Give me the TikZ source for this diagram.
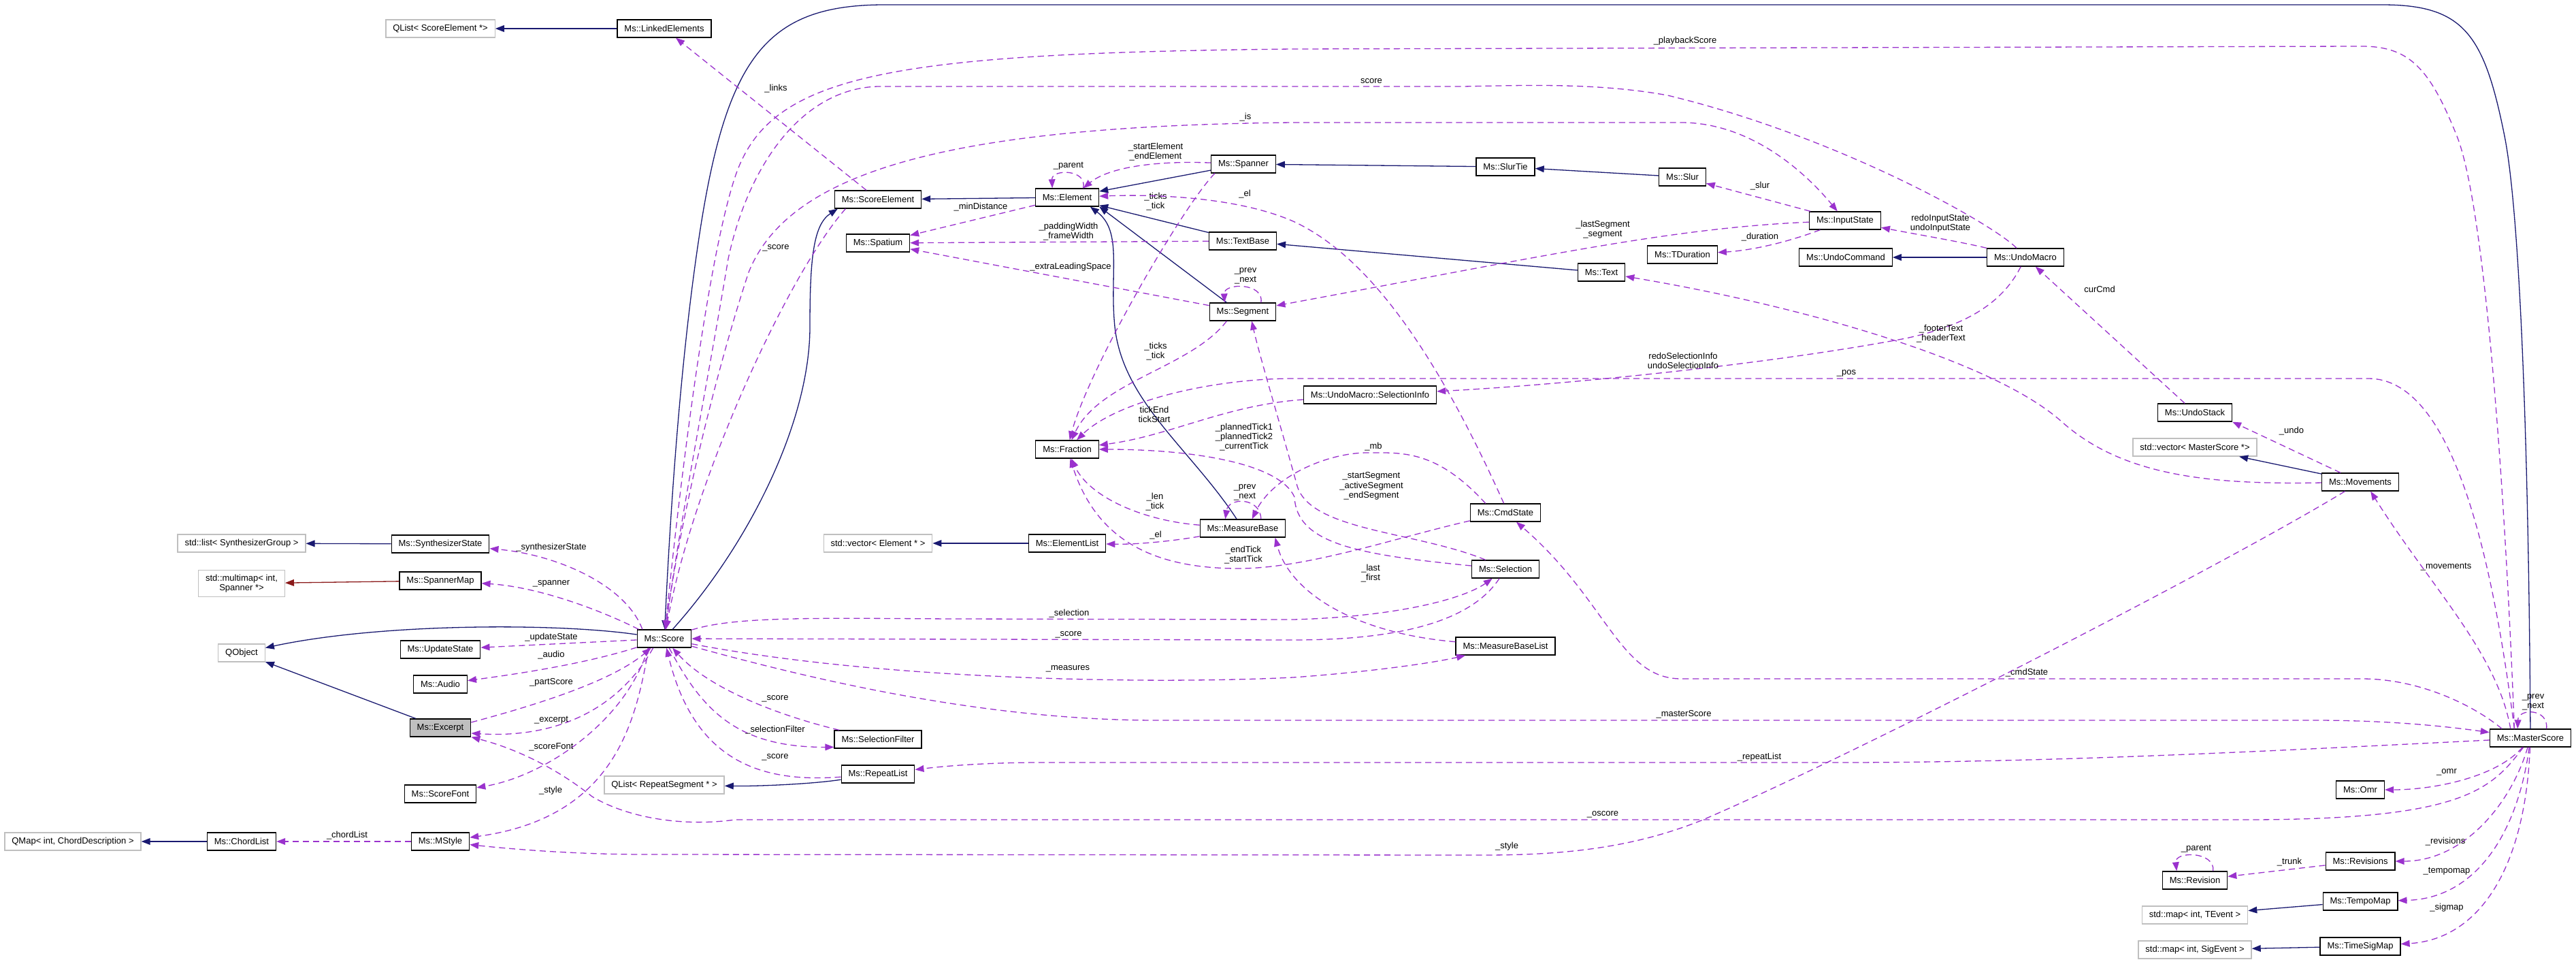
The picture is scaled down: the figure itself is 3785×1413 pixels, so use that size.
\documentclass[tikz,border=0pt]{standalone}
\usepackage{fontspec}
\setmainfont{Liberation Sans}
\usetikzlibrary{arrows.meta}
\definecolor{Navy}{HTML}{191970}
\definecolor{Orchid}{HTML}{9A32CD}
\definecolor{Brick}{HTML}{8B1A1A}
\definecolor{Grey}{HTML}{BFBFBF}
\begin{document}
\begin{tikzpicture}[x=0.769pt,y=-0.769pt,font=\fontsize{10}{11}\selectfont,
cls/.style={draw=black,line width=1pt,fill=white,inner xsep=8pt,inner ysep=0pt,minimum height=20pt,align=center},
ext/.style={cls,draw=Grey},cur/.style={cls,fill=Grey},
inh/.style={-{Triangle[length=10pt,width=7.5pt]},draw=Navy,line width=1pt},
tpl/.style={inh,draw=Brick},
dep/.style={-{Triangle[length=10pt,width=7.5pt]},draw=Orchid,line width=1pt,dash pattern=on 7pt off 4.5pt},
lbl/.style={align=center,inner sep=0pt}]
\useasboundingbox (0,0) rectangle (3785,1413);
\node[ext] (qlistse) at (647,42) {QList< ScoreElement *>};
\node[cls] (linked) at (976,42) {Ms::LinkedElements};
\node[cls] (scoreel) at (1290,293) {Ms::ScoreElement};
\node[cls] (elem) at (1568,290) {Ms::Element};
\node[cls] (spatium) at (1290,357) {Ms::Spatium};
\node[cls] (spanner) at (1827,241) {Ms::Spanner};
\node[cls] (textbase) at (1826,354) {Ms::TextBase};
\node[cls] (segment) at (1826,458) {Ms::Segment};
\node[cls] (slurtie) at (2212,245) {Ms::SlurTie};
\node[cls] (slur) at (2472,260) {Ms::Slur};
\node[cls] (inputst) at (2711,324) {Ms::InputState};
\node[cls] (tdur) at (2472,374) {Ms::TDuration};
\node[cls] (undocmd) at (2712,378) {Ms::UndoCommand};
\node[cls] (txt) at (2353,400) {Ms::Text};
\node[cls] (undomac) at (2976,378) {Ms::UndoMacro};
\node[cls] (fraction) at (1568,660) {Ms::Fraction};
\node[cls] (measbase) at (1826,776) {Ms::MeasureBase};
\node[cls] (ellist) at (1568,798) {Ms::ElementList};
\node[ext] (vecel) at (1290,798) {std::vector< Element * >};
\node[cls] (selinfo) at (2013,580) {Ms::UndoMacro::SelectionInfo};
\node[cls] (cmdst) at (2212,753) {Ms::CmdState};
\node[cls] (selection) at (2212,836) {Ms::Selection};
\node[cls] (mblist) at (2212,949) {Ms::MeasureBaseList};
\node[cls] (undostack) at (3225,606) {Ms::UndoStack};
\node[ext] (vecms) at (3225,657) {std::vector< MasterScore *>};
\node[cls] (movements) at (3468,708) {Ms::Movements};
\node[ext] (listsyn) at (355,798) {std::list< SynthesizerGroup >};
\node[cls] (synstate) at (647,799) {Ms::SynthesizerState};
\node[ext,inner ysep=5pt] (multimap) at (355,857) {std::multimap< int,\\Spanner *>};
\node[cls] (spmap) at (647,853) {Ms::SpannerMap};
\node[cls] (score) at (976,938) {Ms::Score};
\node[ext] (qobject) at (355,959) {QObject};
\node[cls] (updst) at (647,954) {Ms::UpdateState};
\node[cls] (audio) at (647,1005) {Ms::Audio};
\node[cur] (excerpt) at (647,1069) {Ms::Excerpt};
\node[cls] (scorefont) at (647,1166) {Ms::ScoreFont};
\node[ext] (qmap) at (107,1236) {QMap< int, ChordDescription >};
\node[cls] (chordlist) at (355,1236) {Ms::ChordList};
\node[cls] (mstyle) at (647,1236) {Ms::MStyle};
\node[ext] (qlistrs) at (976,1153) {QList< RepeatSegment * >};
\node[cls] (selfilter) at (1290,1086) {Ms::SelectionFilter};
\node[cls] (replist) at (1290,1137) {Ms::RepeatList};
\node[cls] (master) at (3718,1084) {Ms::MasterScore};
\node[cls] (omr) at (3468,1160) {Ms::Omr};
\node[cls] (revisions) at (3468,1265) {Ms::Revisions};
\node[cls] (revision) at (3225,1293) {Ms::Revision};
\node[cls] (tempomap) at (3468,1324) {Ms::TempoMap};
\node[ext] (mapte) at (3225,1344) {std::map< int, TEvent >};
\node[cls] (timesig) at (3468,1390) {Ms::TimeSigMap};
\node[ext] (mapse) at (3225,1395) {std::map< int, SigEvent >};
\draw[inh] (linked) -- (qlistse);
\draw[inh] (elem) -- (scoreel);
\draw[inh] (spanner) -- (elem);
\draw[inh] (textbase) -- (elem);
\draw[inh] (segment.150) -- (elem.-16);
\draw[inh] (measbase) .. controls (1750,660) and (1650,590) .. (1638,480) .. controls (1630,400) and (1650,340) .. (elem.-22);
\draw[inh] (slurtie) -- (spanner);
\draw[inh] (slur) -- (slurtie);
\draw[inh] (txt) -- (textbase);
\draw[inh] (undomac) -- (undocmd);
\draw[inh] (synstate) -- (listsyn);
\draw[inh] (ellist) -- (vecel);
\draw[inh] (chordlist) -- (qmap);
\draw[inh] (replist) .. controls (1190,1152) and (1110,1155) .. (qlistrs);
\draw[inh] (movements) -- (vecms);
\draw[inh] (tempomap) -- (mapte);
\draw[inh] (timesig) -- (mapse);
\draw[inh] (excerpt) -- (qobject);
\draw[inh] (score) .. controls (820,915) and (560,915) .. (qobject);
\draw[inh] (score) .. controls (1100,800) and (1190,620) .. (1190,480) .. controls (1190,380) and (1195,330) .. (scoreel.-167);
\draw[inh] (master) .. controls (3715,600) and (3700,300) .. (3680,200) .. controls (3650,50) and (3620,7) .. (3500,7) -- (1300,7) .. controls (1130,7) and (1070,80) .. (1030,330) .. controls (1000,520) and (985,750) .. (score);
\draw[tpl] (spmap) -- (multimap);
\draw[dep] (scoreel) -- (linked) node[lbl] at (1140,130) {\_links};
\draw[dep] (scoreel.-164) .. controls (1160,400) and (1020,700) .. (score) node[lbl] at (1140,364) {\_score};
\draw[dep] (elem.30) .. controls (1598,248) and (1545,248) .. (elem.148) node[lbl] at (1570,244) {\_parent};
\draw[dep] (spanner) .. controls (1700,236) and (1630,245) .. (elem.30) node[lbl] at (1698,223) {\_startElement\\\_endElement};
\draw[dep] (elem) -- (spatium) node[lbl] at (1441,304) {\_minDistance};
\draw[dep] (textbase) -- (spatium) node[lbl] at (1570,340) {\_paddingWidth\\\_frameWidth};
\draw[dep] (segment) -- (spatium) node[lbl] at (1573,392) {\_extraLeadingSpace};
\draw[dep] (segment.27) .. controls (1858,415) and (1798,415) .. (segment.153) node[lbl] at (1830,405) {\_prev\\\_next};
\draw[dep] (spanner.-162) .. controls (1740,300) and (1600,540) .. (fraction) node[lbl] at (1698,296) {\_ticks\\\_tick};
\draw[dep] (segment.-150) .. controls (1750,540) and (1615,560) .. (fraction) node[lbl] at (1698,516) {\_ticks\\\_tick};
\draw[dep] (cmdst.100) .. controls (2120,540) and (2020,380) .. (1900,325) .. controls (1820,290) and (1700,285) .. (elem) node[lbl] at (1829,285) {\_el};
\draw[dep] (cmdst.155) .. controls (2110,660) and (2060,665) .. (2009,665) .. controls (1950,665) and (1870,700) .. (measbase.45) node[lbl] at (2018,656) {\_mb};
\draw[dep] (measbase.27) .. controls (1852,730) and (1805,730) .. (measbase.152) node[lbl] at (1829,723) {\_prev\\\_next};
\draw[dep] (measbase) .. controls (1680,765) and (1600,730) .. (fraction) node[lbl] at (1697,737) {\_len\\\_tick};
\draw[dep] (measbase) .. controls (1740,792) and (1680,800) .. (ellist) node[lbl] at (1698,786) {\_el};
\draw[dep] (cmdst) .. controls (2050,790) and (1920,835) .. (1820,835) .. controls (1690,835) and (1610,790) .. (fraction) node[lbl] at (1827,815) {\_endTick\\\_startTick};
\draw[dep] (selection) .. controls (2000,815) and (1905,800) .. (1902,730) .. controls (1880,680) and (1750,660) .. (fraction) node[lbl] at (1828,642) {\_plannedTick1\\\_plannedTick2\\\_currentTick};
\draw[dep] (selection.155) .. controls (2080,780) and (1920,780) .. (1905,710) .. controls (1880,620) and (1850,520) .. (segment.-46) node[lbl] at (2015,714) {\_startSegment\\\_activeSegment\\\_endSegment};
\draw[dep] (mblist) .. controls (1990,930) and (1895,870) .. (measbase.-16) node[lbl] at (2014,842) {\_last\\\_first};
\draw[dep] (selinfo) .. controls (1800,595) and (1720,640) .. (fraction) node[lbl] at (1696,609) {tickEnd\\tickStart};
\draw[dep] (master.150) .. controls (3660,800) and (3600,556) .. (3480,556) -- (1900,556) .. controls (1780,556) and (1640,590) .. (fraction) node[lbl] at (2713,548) {\_pos};
\draw[dep] (undomac) .. controls (2940,450) and (2880,480) .. (2800,497) .. controls (2600,535) and (2300,565) .. (selinfo) node[lbl] at (2473,530) {redoSelectionInfo\\undoSelectionInfo};
\draw[dep] (movements) .. controls (3250,712) and (3120,700) .. (3030,620) .. controls (2930,530) and (2650,450) .. (txt) node[lbl] at (2852,490) {\_footerText\\\_headerText};
\draw[dep] (undostack) -- (undomac) node[lbl] at (3085,425) {curCmd};
\draw[dep] (movements) -- (undostack.south east) node[lbl] at (3367,633) {\_undo};
\draw[dep] (master.155) .. controls (3670,960) and (3570,860) .. (movements.-42) node[lbl] at (3594,833) {\_movements};
\draw[dep] (master.162) .. controls (3640,1040) and (3560,997) .. (3470,997) -- (2470,997) .. controls (2380,997) and (2360,880) .. (cmdst) node[lbl] at (2978,988) {\_cmdState};
\draw[dep] (master.30) .. controls (3745,1040) and (3700,1040) .. (master.144) node[lbl] at (3722,1031) {\_prev\\\_next};
\draw[dep] (master) .. controls (3670,1140) and (3580,1160) .. (omr) node[lbl] at (3595,1134) {\_omr};
\draw[dep] (master) .. controls (3690,1180) and (3620,1265) .. (revisions) node[lbl] at (3593,1236) {\_revisions};
\draw[dep] (revisions) -- (revision) node[lbl] at (3364,1266) {\_trunk};
\draw[dep] (revision.27) .. controls (3255,1250) and (3195,1250) .. (revision.153) node[lbl] at (3227,1247) {\_parent};
\draw[dep] (master) .. controls (3700,1220) and (3640,1320) .. (tempomap) node[lbl] at (3595,1280) {\_tempomap};
\draw[dep] (master) .. controls (3710,1280) and (3640,1380) .. (timesig) node[lbl] at (3595,1333) {\_sigmap};
\draw[dep] (master) .. controls (3300,1105) and (3000,1120) .. (2700,1120) -- (1530,1120) .. controls (1450,1120) and (1390,1125) .. (replist) node[lbl] at (2585,1112) {\_repeatList};
\draw[dep] (master) .. controls (3660,1160) and (3620,1204) .. (3300,1204) -- (1080,1204) .. controls (1000,1215) and (920,1200) .. (870,1170) .. controls (820,1130) and (760,1100) .. (excerpt.south east) node[lbl] at (2355,1196) {\_oscore};
\draw[dep] (movements) .. controls (3250,840) and (2700,1120) .. (2500,1205) .. controls (2400,1245) and (2300,1256) .. (2180,1256) -- (950,1255) .. controls (850,1255) and (760,1248) .. (mstyle) node[lbl] at (2214,1243) {\_style};
\draw[dep] (score.-149) .. controls (935,1050) and (910,1200) .. (mstyle) node[lbl] at (809,1161) {\_style};
\draw[dep] (mstyle) -- (chordlist) node[lbl] at (510,1227) {\_chordList};
\draw[dep] (score.-150) .. controls (920,1060) and (800,1140) .. (scorefont) node[lbl] at (810,1097) {\_scoreFont};
\draw[dep] (score.-140) .. controls (910,1040) and (820,1085) .. (excerpt.-10) node[lbl] at (810,1058) {\_excerpt};
\draw[dep] (excerpt.10) .. controls (790,1035) and (900,1000) .. (score.-145) node[lbl] at (810,1002) {\_partScore};
\draw[dep] (score) .. controls (860,975) and (760,990) .. (audio) node[lbl] at (810,962) {\_audio};
\draw[dep] (score) -- (updst) node[lbl] at (810,936) {\_updateState};
\draw[dep] (score.160) .. controls (880,895) and (790,862) .. (spmap) node[lbl] at (810,857) {\_spanner};
\draw[dep] (score.157) .. controls (920,860) and (820,815) .. (synstate) node[lbl] at (810,804) {\_synthesizerState};
\draw[dep] (selfilter) .. controls (1140,1050) and (1040,1010) .. (score) node[lbl] at (1139,1026) {\_score};
\draw[dep] (score) .. controls (1030,1040) and (1080,1098) .. (selfilter.-170) node[lbl] at (1139,1072) {\_selectionFilter};
\draw[dep] (replist) .. controls (1120,1150) and (1020,1120) .. (score) node[lbl] at (1139,1112) {\_score};
\draw[dep] (score) .. controls (1080,905) and (1200,908) .. (1400,909) -- (1900,910) .. controls (2050,906) and (2150,880) .. (selection) node[lbl] at (1571,901) {\_selection};
\draw[dep] (selection) .. controls (2160,915) and (2050,940) .. (1900,940) -- (score) node[lbl] at (1570,932) {\_score};
\draw[dep] (score) .. controls (1300,1000) and (1700,1005) .. (1900,995) .. controls (2000,988) and (2100,975) .. (mblist) node[lbl] at (1569,982) {\_measures};
\draw[dep] (score) .. controls (1200,1000) and (1450,1058) .. (1700,1058) -- (3400,1058) .. controls (3500,1058) and (3580,1065) .. (master) node[lbl] at (2474,1049) {\_masterScore};
\draw[dep] (master.150) .. controls (3680,700) and (3650,300) .. (3610,200) .. controls (3570,100) and (3540,68) .. (3470,68) -- (1900,72) .. controls (1300,78) and (1130,110) .. (1080,260) .. controls (1040,380) and (1000,700) .. (score) node[lbl] at (2476,60) {\_playbackScore};
\draw[dep] (undomac) .. controls (2930,330) and (2700,200) .. (2450,140) .. controls (2350,122) and (2250,125) .. (2150,127) -- (1290,127) .. controls (1180,130) and (1100,240) .. (1070,380) .. controls (1040,560) and (1000,760) .. (score) node[lbl] at (2015,119) {score};
\draw[dep] (score) .. controls (1000,750) and (1060,520) .. (1100,400) .. controls (1160,250) and (1400,185) .. (1900,180) -- (2470,180) .. controls (2570,180) and (2650,250) .. (inputst) node[lbl] at (1830,172) {\_is};
\draw[dep] (inputst) .. controls (2450,335) and (2250,380) .. (segment) node[lbl] at (2355,337) {\_lastSegment\\\_segment};
\draw[dep] (inputst) -- (slur) node[lbl] at (2586,273) {\_slur};
\draw[dep] (inputst) .. controls (2620,358) and (2570,368) .. (tdur) node[lbl] at (2586,348) {\_duration};
\draw[dep] (undomac) .. controls (2880,355) and (2820,345) .. (inputst) node[lbl] at (2851,328) {redoInputState\\undoInputState};
\end{tikzpicture}
\end{document}
